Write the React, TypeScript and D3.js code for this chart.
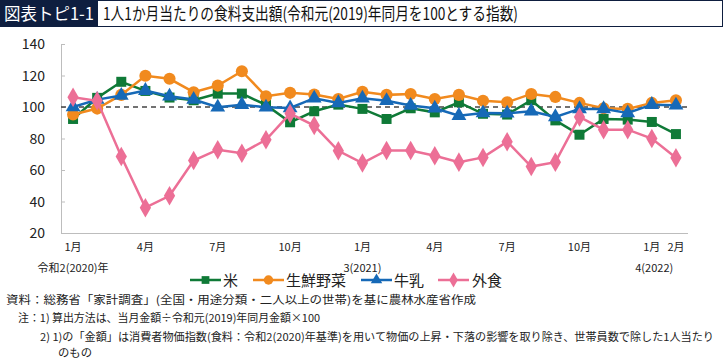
import React from "react";
import * as d3 from "d3";

// 令和2年1月 〜 令和4年2月
const months = d3.range(26).map((i) => `m${i}`);
const monthLabels = ["1月", "", "", "4月", "", "", "7月", "", "", "10月", "", "",
  "1月", "", "", "4月", "", "", "7月", "", "", "10月", "", "", "1月", "2月"];
const yearLabels = [
  { idx: 0, text: "令和2(2020)年" },
  { idx: 12, text: "3(2021)" },
  { idx: 24.1, text: "4(2022)" },
];
const yTicks = [20, 40, 60, 80, 100, 120, 140];

const rice = [92.4, 105.8, 116, 110.2, 106, 104.3, 108.5, 108.5, 101.3, 90.3, 97.3, 101.5, 98.8,
  92.4, 99.2, 96.6, 103, 95.7, 95.2, 104.3, 91.5, 82.4, 92.4, 92, 90.5, 82.8];
const vegetables = [95.2, 99, 107.7, 119.8, 117.9, 109.4, 113.6, 122.7, 106.8, 109, 107.9, 105.1, 109.6,
  107.7, 108.3, 105.1, 107.7, 104, 103, 108.3, 106.4, 102.6, 99.2, 98.8, 102.6, 104.3];
const milk = [100, 104.7, 107.3, 110.4, 106.8, 104.7, 99.8, 101.5, 99.8, 99.4, 105.6, 102.6, 105.6,
  104, 100.9, 99.2, 94.5, 96.2, 96, 97.3, 93.7, 98.8, 98.8, 96.2, 101.5, 101.1];
const eatingOut = [106.2, 103.9, 68.6, 36.1, 43.6, 66, 72.9, 70.7, 79.2, 95.8, 88.2, 72.2, 64.4,
  72.4, 72.4, 69, 65, 68, 78, 62.2, 65, 93.7, 85.6, 85.6, 80, 67.8];

const series = [
  { name: "米", values: rice, color: "#0f7a37", shape: d3.symbolSquare, size: 100 },
  { name: "生鮮野菜", values: vegetables, color: "#f18a1e", shape: d3.symbolCircle, size: 115 },
  { name: "牛乳", values: milk, color: "#1669b7", shape: d3.symbolTriangle, size: 95 },
  { name: "外食", values: eatingOut, color: "#ec6f96", shape: d3.symbolDiamond, size: 110 },
];

const notes = [
  { x: 6, y: 304, w: 470, text: "資料：総務省「家計調査」(全国・用途分類・二人以上の世帯)を基に農林水産省作成" },
  { x: 18, y: 322, w: 302, text: "注：1) 算出方法は、当月金額÷令和元(2019)年同月金額×100" },
  { x: 40, y: 341, w: 674, text: "2) 1)の「金額」は消費者物価指数(食料：令和2(2020)年基準)を用いて物価の上昇・下落の影響を取り除き、世帯員数で除した1人当たり" },
  { x: 58, y: 357, w: 34, text: "のもの" },
];

const W = 724, H = 359;
const left = 61, right = 688, top = 44, bottom = 233;
const font = "'Noto Sans CJK JP', 'Noto Sans', sans-serif";

export default function App() {
  const x = d3.scalePoint<string>().domain(months).range([left, right]).padding(0.5);
  const y = d3.scaleLinear().domain([20, 140]).range([bottom, top]);
  const step = x.step();
  const px = (i: number) => (x(months[0]) as number) + i * step;

  const line = d3.line<number>().x((d, i) => px(i)).y((d) => y(d));
  const legendItems = [
    { x: 190, tx: 223 },
    { x: 253, tx: 286 },
    { x: 361, tx: 394 },
    { x: 438, tx: 472 },
  ];

  return (
    <svg width={W} height={H} style={{ position: "absolute", left: 0, top: 0, background: "#fff" }}>
      {/* title */}
      <rect x={0.5} y={0.5} width={722} height={26} fill="#fff" stroke="#0e1e3f" />
      <rect x={0} y={0} width={98} height={27} fill="#0e1e3f" />
      <text x={4} y={20} fill="#fff" fontFamily={font} fontSize={17} textLength={90} lengthAdjust="spacingAndGlyphs">図表トピ1-1</text>
      <text x={103} y={20} fill="#111" fontFamily={font} fontSize={17} textLength={415} lengthAdjust="spacingAndGlyphs">
        1人1か月当たりの食料支出額(令和元(2019)年同月を100とする指数)
      </text>

      {/* axes */}
      <line x1={left + 0.5} x2={left + 0.5} y1={top} y2={bottom} stroke="#bdbdbd" />
      <line x1={left} x2={right} y1={bottom + 0.5} y2={bottom + 0.5} stroke="#bdbdbd" />
      {yTicks.map((t) => (
        <g key={t}>
          <line x1={left} x2={left + 4} y1={y(t) + 0.5} y2={y(t) + 0.5} stroke="#bdbdbd" />
          <text x={45} y={y(t) + 5} textAnchor="end" fontFamily={font} fontSize={14} fill="#222">{t}</text>
        </g>
      ))}
      <line x1={left} x2={right} y1={y(100)} y2={y(100)} stroke="#444" strokeWidth={1.5} strokeDasharray="5,4" />

      {monthLabels.map((m, i) => m && (
        <text key={i} x={px(i)} y={251} textAnchor="middle" fontFamily={font} fontSize={11} fill="#222">{m}</text>
      ))}
      {yearLabels.map((d) => (
        <text key={d.text} x={px(d.idx)} y={272} textAnchor="middle" fontFamily={font} fontSize={11} fill="#222">{d.text}</text>
      ))}

      {/* series */}
      {series.map((s) => (
        <g key={s.name}>
          <path d={line(s.values) || ""} fill="none" stroke={s.color} strokeWidth={2.5} />
          {s.values.map((v, i) => (
            <path key={i} d={d3.symbol().type(s.shape).size(s.size)() || ""}
              transform={`translate(${px(i)},${y(v)})`} fill={s.color} />
          ))}
        </g>
      ))}

      {/* legend */}
      {series.map((s, k) => (
        <g key={s.name}>
          <line x1={legendItems[k].x} x2={legendItems[k].x + 31} y1={280} y2={280} stroke={s.color} strokeWidth={2.5} />
          <path d={d3.symbol().type(s.shape).size(s.size * 0.6)() || ""}
            transform={`translate(${legendItems[k].x + 15.5},280)`} fill={s.color} />
          <text x={legendItems[k].tx} y={286} fontFamily={font} fontSize={15} fill="#222">{s.name}</text>
        </g>
      ))}

      {/* notes */}
      {notes.map((n) => (
        <text key={n.y} x={n.x} y={n.y} fontFamily={font} fontSize={11} fill="#222"
          textLength={n.w} lengthAdjust="spacingAndGlyphs">{n.text}</text>
      ))}
    </svg>
  );
}
